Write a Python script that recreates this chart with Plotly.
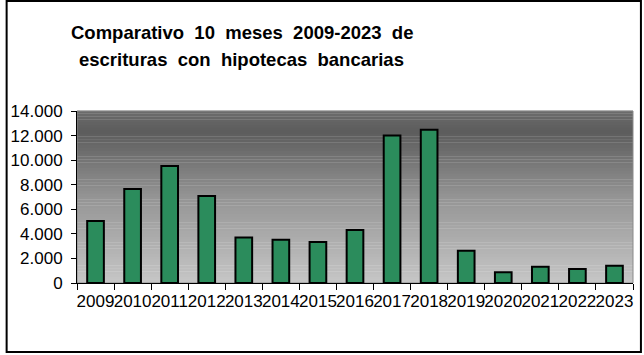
import plotly.graph_objects as go

years = ["2009", "2010", "2011", "2012", "2013", "2014", "2015", "2016",
         "2017", "2018", "2019", "2020", "2021", "2022", "2023"]
escrituras = [5050, 7650, 9520, 7080, 3700, 3520, 3340, 4320,
              12000, 12480, 2620, 880, 1320, 1140, 1400]
y_ticks = [0, 2000, 4000, 6000, 8000, 10000, 12000, 14000]
title_lines = ["Comparativo\u00a0 10\u00a0 meses\u00a0 2009-2023\u00a0 de",
               "escrituras\u00a0 con\u00a0 hipotecas\u00a0 bancarias"]

W, H = 644, 355
L, R, T, B = 72, 11, 111, 72
pw, ph = W - L - R, H - T - B

fig = go.Figure()
fig.add_trace(go.Bar(
    x=years, y=escrituras,
    marker=dict(color="#2b8c5c", line=dict(color="black", width=2)),
))

def lerp(c1, c2, f):
    return tuple(round(a + (b - a) * f) for a, b in zip(c1, c2))

stops = [(0.0, (108, 108, 108)), (0.12, (92, 92, 92)), (0.5, (148, 148, 148)), (1.0, (198, 198, 198))]
n = 60
shapes = []
for i in range(n):
    t = (i + 0.5) / n
    for j in range(len(stops) - 1):
        if stops[j][0] <= t <= stops[j + 1][0]:
            f = (t - stops[j][0]) / (stops[j + 1][0] - stops[j][0])
            c = lerp(stops[j][1], stops[j + 1][1], f)
            break
    y1 = 1 - i / n
    y0 = 1 - (i + 1) / n
    shapes.append(dict(type="rect", xref="paper", yref="paper", x0=0, x1=1, y0=y0, y1=y1 + 0.002,
                       fillcolor="rgb(%d,%d,%d)" % c, line=dict(width=0), layer="below"))
shapes.append(dict(type="rect", xref="paper", yref="paper", x0=0, x1=1, y0=0, y1=1,
                   line=dict(color="#8a8a8a", width=1), layer="below"))
shapes.append(dict(type="rect", xref="paper", yref="paper",
                   x0=(1 - L) / pw, x1=(641 - L) / pw,
                   y0=(H - B - 352) / ph, y1=(H - B - 1) / ph,
                   line=dict(color="black", width=2)))

fig.update_layout(
    width=W, height=H,
    margin=dict(l=L, r=R, t=T, b=B),
    paper_bgcolor="white",
    plot_bgcolor="rgba(0,0,0,0)",
    separators=",.",
    showlegend=False,
    bargap=0.55,
    font=dict(family="Liberation Sans, Arial", color="black"),
    shapes=shapes,
    xaxis=dict(
        showgrid=False, showline=True, linecolor="black", linewidth=1,
        ticks="outside", tickson="boundaries", ticklen=6, tickcolor="black",
        tickfont=dict(size=17), tickangle=0, ticklabelstandoff=3,
    ),
    yaxis=dict(
        range=[0, 14000], tickvals=y_ticks, tickformat=",d",
        showgrid=False, showline=True, linecolor="black", linewidth=1,
        ticks="outside", ticklen=5, tickcolor="black",
        tickfont=dict(size=17), zeroline=False, ticklabelstandoff=5,
    ),
    annotations=[
        dict(text=title_lines[0], xref="paper", yref="paper",
             x=(238 - L) / pw, y=(H - B - 32) / ph, xanchor="center", yanchor="middle",
             showarrow=False, font=dict(size=18.5, family="Liberation Sans, Arial")),
        dict(text=title_lines[1], xref="paper", yref="paper",
             x=(238 - L) / pw, y=(H - B - 60) / ph, xanchor="center", yanchor="middle",
             showarrow=False, font=dict(size=18.5, family="Liberation Sans, Arial")),
    ],
)
for a in fig.layout.annotations:
    a.text = "<b>" + a.text + "</b>"

fig.write_html("out.html")
